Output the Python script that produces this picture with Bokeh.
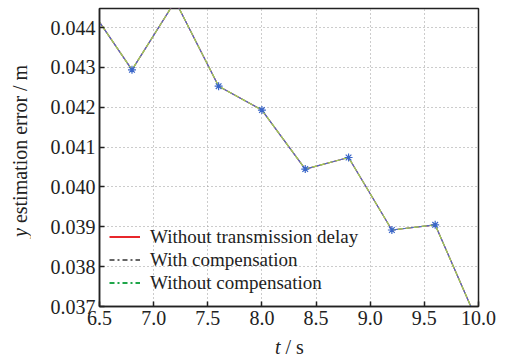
from bokeh.plotting import figure
from bokeh.models import (ColumnDataSource, Range1d, FixedTicker, NumeralTickFormatter,
                          Legend, LegendItem, Div)
from bokeh.layouts import row, column
from bokeh.embed import file_html
from bokeh.resources import INLINE

# ---- data ----
t = [6.4, 6.8, 7.2, 7.6, 8.0, 8.4, 8.8, 9.2, 9.6, 10.0]
err_no_delay = [0.04454, 0.04294, 0.04467, 0.04253, 0.04193, 0.04045, 0.04074, 0.03892, 0.03905, 0.03656]
err_with_comp = [0.04454, 0.04294, 0.04467, 0.04253, 0.04193, 0.04045, 0.04074, 0.03892, 0.03905, 0.03656]
err_without_comp = [0.04454, 0.04294, 0.04467, 0.04253, 0.04193, 0.04045, 0.04074, 0.03892, 0.03905, 0.03656]
x_ticks = [6.5, 7.0, 7.5, 8.0, 8.5, 9.0, 9.5, 10.0]
y_ticks = [0.037, 0.038, 0.039, 0.040, 0.041, 0.042, 0.043, 0.044]
legend_labels = ["Without transmission delay", "With compensation", "Without compensation"]
x_var, x_unit = "t", " / s"
y_var, y_rest = "y", " estimation error / m"

SERIF = "Liberation Serif"

YLAB_W = 30
XLAB_H = 22

fig = figure(frame_width=379, frame_height=298, output_backend="svg", toolbar_location=None,
             x_range=Range1d(6.5, 10.0), y_range=Range1d(0.037, 0.04448),
             min_border_left=99 - YLAB_W, min_border_right=32, min_border_top=8,
             min_border_bottom=52 - XLAB_H,
             background_fill_color="white", border_fill_color="white")

fig.outline_line_color = "#222222"
fig.outline_line_width = 1.5

fig.axis.axis_line_color = "#222222"
fig.axis.axis_line_width = 1.5
fig.axis.major_tick_in = 5
fig.axis.major_tick_out = 0
fig.axis.major_tick_line_color = "#222222"
fig.axis.major_tick_line_width = 1.5
fig.axis.minor_tick_line_color = None
fig.axis.major_label_text_font = SERIF
fig.axis.major_label_text_font_size = "20px"
fig.axis.major_label_text_color = "#222222"

fig.xaxis.ticker = FixedTicker(ticks=x_ticks)
fig.yaxis.ticker = FixedTicker(ticks=y_ticks)
fig.yaxis.formatter = NumeralTickFormatter(format="0.000")
fig.xaxis.formatter = NumeralTickFormatter(format="0.0")
fig.xaxis.major_label_standoff = 4
fig.yaxis.major_label_standoff = 4

fig.grid.grid_line_color = "#999999"
fig.grid.grid_line_dash = "1 3"
fig.grid.grid_line_width = 1

src = ColumnDataSource(dict(t=t, a=err_no_delay, b=err_with_comp, c=err_without_comp))

fig.line("t", "a", source=src, line_color="#e8262b", line_width=1.2)
fig.line("t", "b", source=src, line_color="#4a6fc8", line_width=1.2)
fig.line("t", "c", source=src, line_color="#a6d24a", line_width=1.2, line_dash="5 3")
fig.scatter("t", "b", source=src, marker="asterisk", size=8, line_color="#3a66c8", line_width=1.2)

# legend proxies (display styles)
lg_red = fig.line("t", "a", source=src, line_color="#e8262b", line_width=2, visible=False)
lg_black = fig.line("t", "b", source=src, line_color="#333333", line_width=1.5, line_dash="5 3 2 3", visible=False)
lg_green = fig.line("t", "c", source=src, line_color="#1fa64a", line_width=2, line_dash="5 3 2 3", visible=False)

legend = Legend(items=[LegendItem(label=legend_labels[0], renderers=[lg_red]),
                       LegendItem(label=legend_labels[1], renderers=[lg_black]),
                       LegendItem(label=legend_labels[2], renderers=[lg_green])],
                location=(10, 12), border_line_color=None, background_fill_alpha=0,
                label_text_font=SERIF, label_text_font_size="19px", label_text_color="#222222",
                glyph_width=31, label_standoff=10, padding=0, margin=0, spacing=0,
                label_height=23, glyph_height=23)
fig.add_layout(legend, "center")

font_css = "font-family:'Liberation Serif',serif; font-size:20px; color:#222222; white-space:nowrap;"

xlab = Div(width=510 - YLAB_W, height=XLAB_H, margin=0,
           text=f"<div style=\"{font_css} line-height:22px; margin-left:245px;\">"
                f"<i>{x_var}</i>{x_unit}</div>")

ylab = Div(width=YLAB_W, height=358, margin=0,
           text=f"<div style=\"{font_css} line-height:20px; width:20px; height:237px; margin-left:10px; "
                f"writing-mode:vertical-rl; transform:rotate(180deg); text-align:left;\">"
                f"<i>{y_var}</i>{y_rest}</div>")

p = row(ylab, column(fig, xlab, spacing=0), spacing=0)

open("out.html", "w").write(file_html(p, INLINE))
